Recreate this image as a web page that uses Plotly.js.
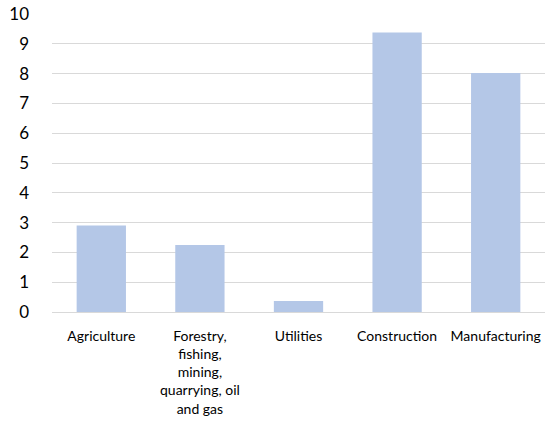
<!DOCTYPE html>
<html><head><meta charset="utf-8">
<script src="https://cdn.plot.ly/plotly-3.0.1.min.js"></script>
<style>html,body{margin:0;padding:0;background:#fff}#c{width:548px;height:424px}</style>
</head><body><div id="c"></div>
<script>
const categories = ["Agriculture", "Forestry,<br>fishing,<br>mining,<br>quarrying, oil<br>and gas", "Utilities", "Construction", "Manufacturing"];
const values = [2.9, 2.25, 0.37, 9.38, 8.02];
const yTicks = [0,1,2,3,4,5,6,7,8,9,10];

Plotly.newPlot('c', [{
  type: 'bar', x: categories, y: values,
  marker: {color: '#b4c7e7'}, hoverinfo: 'none'
}], {
  width: 548, height: 424,
  margin: {l: 52, r: 3, t: 14, b: 112},
  paper_bgcolor: '#fff', plot_bgcolor: '#fff',
  bargap: 0.5,
  font: {family: 'Lato, "Open Sans", sans-serif', color: '#000'},
  showlegend: false,
  xaxis: {
    tickfont: {size: 14, color: '#000'}, showgrid: false, showline: true,
    linecolor: '#d9d9d9', linewidth: 1, ticks: '', ticklabelstandoff: 11, fixedrange: true
  },
  yaxis: {
    range: [0, 10], tickvals: yTicks, ticktext: yTicks.map(String),
    tickfont: {size: 17, color: '#000'}, showgrid: true, gridcolor: '#d9d9d9',
    gridwidth: 1, zeroline: false, showline: false, ticks: '', ticklabelstandoff: 22, fixedrange: true
  }
}, {staticPlot: true});
</script></body></html>
